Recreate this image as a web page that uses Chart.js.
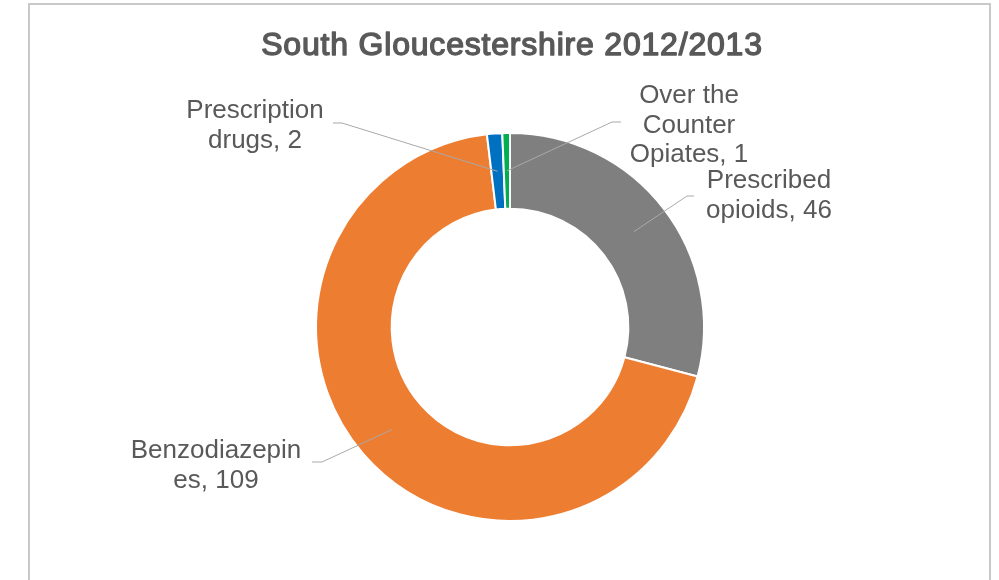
<!DOCTYPE html>
<html>
<head>
<meta charset="utf-8">
<script src="https://cdn.jsdelivr.net/npm/chart.js@4"></script>
<style>
  html, body { margin: 0; padding: 0; background: #fff; overflow: hidden; }
  #frame {
    position: absolute; left: 28px; top: 3px; width: 963px; height: 700px;
    border: 2px solid #c9c9c9; box-sizing: border-box;
  }
  #wrap { position: absolute; left: 0; top: 0; width: 999px; height: 580px; }
</style>
</head>
<body>
<div id="frame"></div>
<div id="wrap"><canvas id="chart" width="999" height="580"></canvas></div>
<script>
const chartTitle = 'South Gloucestershire 2012/2013';
const categories = ['Prescribed opioids', 'Benzodiazepines', 'Prescription drugs', 'Over the Counter Opiates'];
const values = [46, 109, 2, 1];
const colors = ['#7f7f7f', '#ed7d31', '#0070c0', '#00b050'];
// how Excel wrapped each category name in its data label
const wrappedNames = [['Prescribed', 'opioids'], ['Benzodiazepin', 'es'], ['Prescription', 'drugs'], ['Over the', 'Counter', 'Opiates']];

// where each label sits (text centre x, first baseline y) and where its leader starts
const labelBoxes = [
  { x: 769, y: 188, lx: 694, ly: 196, tick: -7 },
  { x: 216, y: 458, lx: 312, ly: 462, tick: 10 },
  { x: 255, y: 118, lx: 333, ly: 123, tick: 9 },
  { x: 689, y: 103, lx: 621, ly: 122, tick: -9 }
];

// bold faces come out condensed here, so the title is drawn with a stroked regular face
const boldTitle = {
  id: 'boldTitle',
  afterDraw(chart) {
    const { ctx } = chart;
    ctx.save();
    ctx.font = '32px "Liberation Sans", Arial, sans-serif';
    ctx.letterSpacing = '0.8px';
    ctx.textAlign = 'center';
    ctx.textBaseline = 'alphabetic';
    ctx.fillStyle = '#595959';
    ctx.strokeStyle = '#595959';
    ctx.lineWidth = 1.4;
    ctx.lineJoin = 'round';
    ctx.fillText(chartTitle, 512, 55);
    ctx.strokeText(chartTitle, 512, 55);
    ctx.restore();
  }
};

const leaderLabels = {
  id: 'leaderLabels',
  afterDatasetsDraw(chart) {
    const { ctx } = chart;
    const arcs = chart.getDatasetMeta(0).data;
    ctx.save();
    ctx.font = '26px "Liberation Sans", Arial, sans-serif';
    ctx.textAlign = 'center';
    ctx.textBaseline = 'alphabetic';
    arcs.forEach((arc, i) => {
      const mid = (arc.startAngle + arc.endAngle) / 2;
      const r = (arc.innerRadius + arc.outerRadius) / 2;
      const px = arc.x + Math.cos(mid) * r;
      const py = arc.y + Math.sin(mid) * r;
      const box = labelBoxes[i];

      ctx.strokeStyle = '#a9a9a9';
      ctx.lineWidth = 1;
      ctx.beginPath();
      ctx.moveTo(box.lx, box.ly);
      ctx.lineTo(box.lx + box.tick, box.ly);
      ctx.lineTo(px, py);
      ctx.stroke();

      const lines = wrappedNames[i].slice();
      lines[lines.length - 1] += ', ' + values[i];
      ctx.fillStyle = '#595959';
      lines.forEach((t, k) => ctx.fillText(t, box.x, box.y + k * 29.5));
    });
    ctx.restore();
  }
};

new Chart(document.getElementById('chart'), {
  type: 'doughnut',
  data: {
    labels: categories,
    datasets: [{
      data: values,
      backgroundColor: colors,
      borderColor: '#ffffff',
      borderWidth: 2
    }]
  },
  options: {
    responsive: false,
    animation: false,
    cutout: '61%',
    layout: { padding: { left: 315, right: 294, top: 132, bottom: 58 } },
    plugins: {
      legend: { display: false },
      tooltip: { enabled: false },
      title: { display: false }
    }
  },
  plugins: [leaderLabels, boldTitle]
});
</script>
</body>
</html>
